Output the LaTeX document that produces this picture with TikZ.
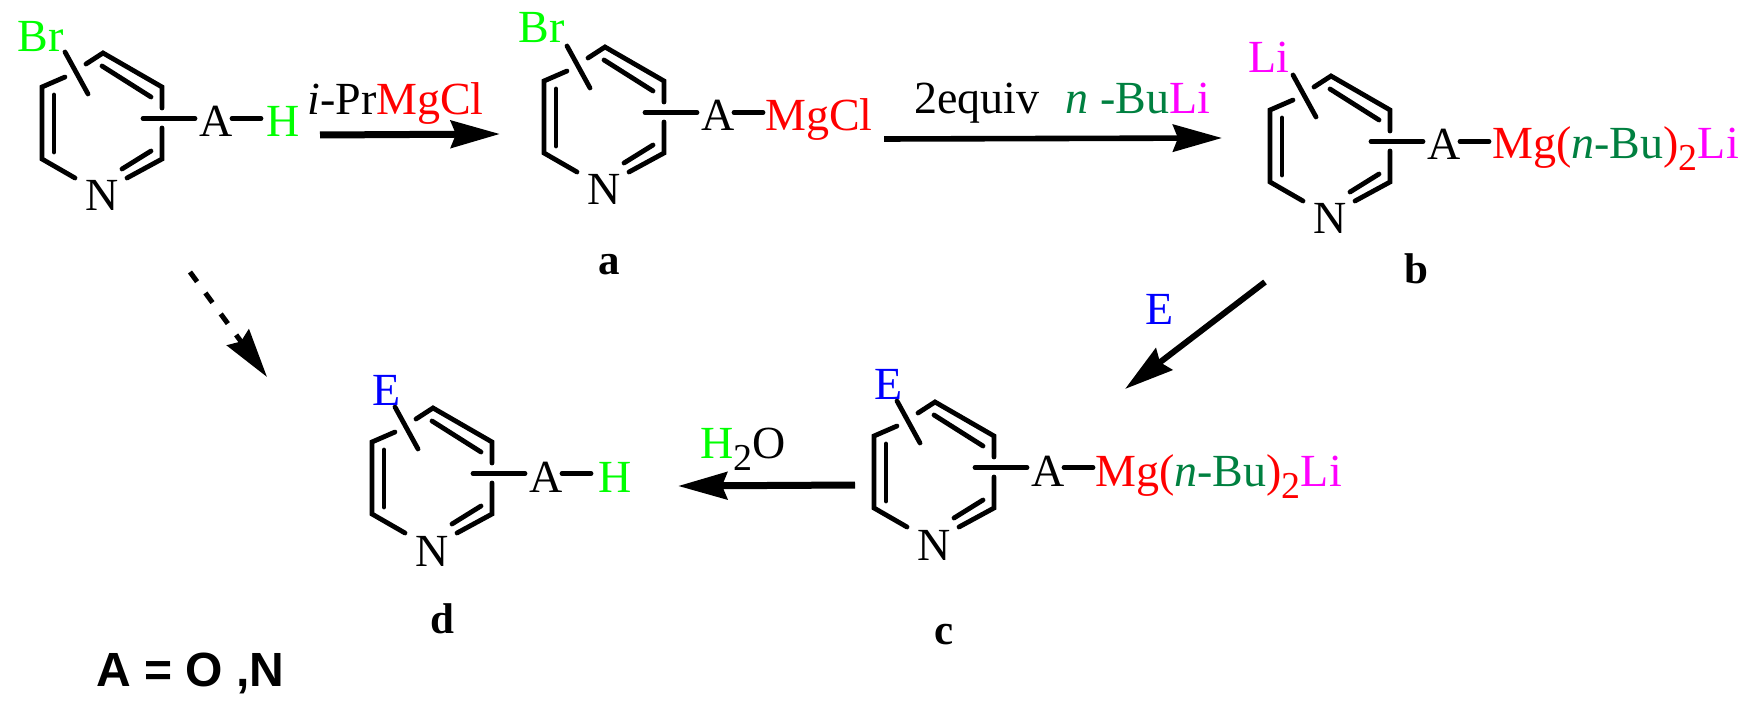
\documentclass[tikz,border=0pt]{standalone}
\usepackage{fontspec}
\setmainfont{Liberation Serif}
\newfontfamily\sansbold{Liberation Sans}
\usetikzlibrary{arrows.meta}
\definecolor{brGreen}{RGB}{0,255,0}
\definecolor{buGreen}{RGB}{0,128,64}
\definecolor{liPink}{RGB}{255,0,255}
\newcommand{\subtwo}{\raisebox{-6pt}{\fontsize{19}{19}\selectfont 2}}
\tikzset{
  atom/.style={inner sep=0pt,anchor=base west,font=\fontsize{23}{23}\selectfont},
  tag/.style={inner sep=0pt,anchor=base,font=\fontsize{21.5}{21.5}\selectfont\bfseries},
  bond/.style={line width=2.4pt,line cap=round},
  rxn/.style={line width=#1,-{Stealth[length=24.5pt,width=13.5pt,inset=2.5pt]}},
}
\newcommand{\pyridine}[3]{
\begin{scope}[shift={(#2,#3)}]
\node [atom,anchor=base] (#1N) at (60.5,124) {N};
\node [atom,anchor=base] (#1A) at (174,50) {A};
\coordinate (#1in) at (101,31.5);
\coordinate (#1out) at (153,31.5);
\coordinate (#1p) at (190,31.5);
\coordinate (#1q) at (219,31.5);
\draw [bond] (23,-10) -- (0,0) -- (0,72) -- (33,91);
\draw [bond] (85,91) -- (120,72) -- (120,41);
\draw [bond] (120,21) -- (120,0) -- (61,-34) -- (44,-23);
\draw [bond] (12,8) -- (12,65);
\draw [bond] (60,-21) -- (109,10);
\draw [bond] (80,82) -- (109,64);
\draw [bond] (23,-35) -- (46,7);
\draw [bond] (#1in) -- (#1out);
\draw [bond] (#1p) -- (#1q);
\end{scope}
}
\begin{document}
\begin{tikzpicture}[x=0.5pt,y=-0.5pt]
\useasboundingbox (0,0) rectangle (1760,711);
\pyridine{s}{42}{87}
\pyridine{a}{544}{81}
\pyridine{b}{1270}{110}
\pyridine{c}{874}{436}
\pyridine{d}{372}{442}
\node [atom,brGreen] (sBr) at (17,52) {Br};
\node [atom,brGreen] (sH) at (266,137) {H};
\node [atom,brGreen] (aBr) at (518,43) {Br};
\node [atom,red] (aMg) at (765,131) {MgCl};
\node [atom,liPink] (bLi) at (1248,73) {Li};
\node [atom,red] (bMg) at (1492,159) {Mg(\textcolor{buGreen}{\textit{n}-Bu})\subtwo\textcolor{liPink}{Li}};
\node [atom,blue] (cE) at (874,399) {E};
\node [atom,red] (cMg) at (1095,486) {Mg(\textcolor{buGreen}{\textit{n}-Bu})\subtwo\textcolor{liPink}{Li}};
\node [atom,blue] (dE) at (372,405) {E};
\node [atom,brGreen] (dH) at (598,492) {H};
\node [tag] (aTag) at (609,274) {a};
\node [tag] (bTag) at (1416,283) {b};
\node [tag] (cTag) at (944,644) {c};
\node [tag] (dTag) at (442,633) {d};
\node [atom] (iPr) at (307,115) {\textit{i}-Pr\textcolor{red}{MgCl}};
\node [atom] (nBu) at (914,114) {2equiv\hspace{13pt}\textcolor{buGreen}{\textit{n} -Bu}\textcolor{liPink}{Li}};
\node [atom,blue] (eLabel) at (1145,324) {E};
\node [atom] (water) at (700,458) {\textcolor{brGreen}{H}\subtwo O};
\node [atom,font=\fontsize{24}{24}\selectfont\sansbold\bfseries] (note) at (96,686) {A = O ,N};
\coordinate (r1a) at (320,135);
\coordinate (r1b) at (500,134);
\coordinate (r2a) at (884,139);
\coordinate (r2b) at (1222,138);
\coordinate (r3a) at (1265,282);
\coordinate (r3b) at (1125,389);
\coordinate (r4a) at (855,485);
\coordinate (r4b) at (678,486);
\coordinate (r5a) at (190,272);
\coordinate (r5b) at (267,377);
\draw [rxn=3.5pt] (r1a) -- (r1b);
\draw [rxn=2.8pt] (r2a) -- (r2b);
\draw [rxn=3pt] (r3a) -- (r3b);
\draw [rxn=3.5pt] (r4a) -- (r4b);
\draw [rxn=2.5pt,dash pattern=on 6pt off 7pt] (r5a) -- (r5b);
\end{tikzpicture}
\end{document}
